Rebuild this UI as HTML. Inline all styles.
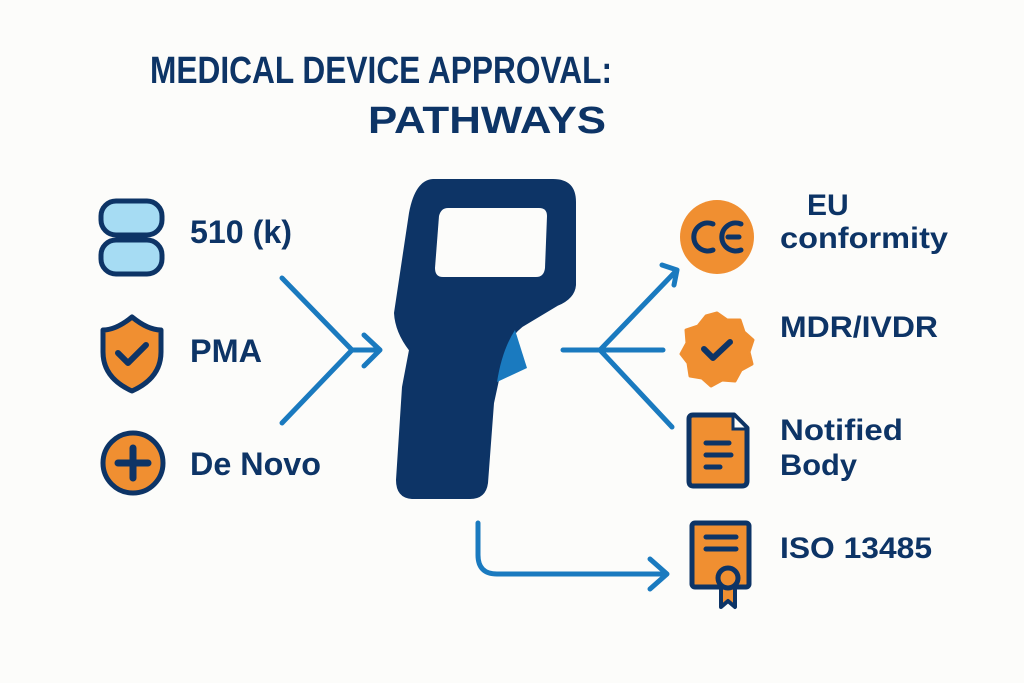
<!DOCTYPE html>
<html><head><meta charset="utf-8"><style>
html,body{margin:0;padding:0;background:#fcfcfa;}
svg{display:block;}
text{font-family:"Liberation Sans",sans-serif;font-weight:bold;fill:#0d3466;}
</style></head><body>
<svg width="1024" height="683" viewBox="0 0 1024 683" xmlns="http://www.w3.org/2000/svg">
<rect width="1024" height="683" fill="#fcfcfa"/>
<text x="150" y="83" font-size="38" textLength="462" lengthAdjust="spacingAndGlyphs">MEDICAL DEVICE APPROVAL:</text>
<text x="368" y="133" font-size="38" textLength="238" lengthAdjust="spacingAndGlyphs">PATHWAYS</text>

<rect x="101" y="201" width="61" height="34" rx="15" fill="#a6dcf3" stroke="#0d3466" stroke-width="5"/>
<rect x="101" y="240" width="61" height="34" rx="15" fill="#a6dcf3" stroke="#0d3466" stroke-width="5"/>
<text x="190" y="243" font-size="32" textLength="102" lengthAdjust="spacingAndGlyphs">510 (k)</text>

<path d="M132 317 Q148 330 161 330 L161 352 Q161 378 132 391 Q103 378 103 352 L103 330 Q116 330 132 317 Z" fill="#f08f31" stroke="#0d3466" stroke-width="5" stroke-linejoin="round"/>
<path d="M118 353 L128 363 L146 345" fill="none" stroke="#0d3466" stroke-width="6" stroke-linecap="round" stroke-linejoin="round"/>
<text x="190" y="362" font-size="32" textLength="72" lengthAdjust="spacingAndGlyphs">PMA</text>

<circle cx="133" cy="463" r="30" fill="#f08f31" stroke="#0d3466" stroke-width="5"/>
<path d="M133 448 V478 M118 463 H148" stroke="#0d3466" stroke-width="7" stroke-linecap="round"/>
<text x="190" y="475" font-size="32" textLength="131" lengthAdjust="spacingAndGlyphs">De Novo</text>

<g fill="none" stroke="#1a7abf" stroke-width="5" stroke-linecap="round" stroke-linejoin="round">
<path d="M282 278 L352 350 L282 423"/>
<path d="M352 350 H380 M364 335 L380 350 L364 366"/>
<path d="M563 350 H663"/>
<path d="M600 350 L677 270 M662 265 L677 270 L674 285"/>
<path d="M600 350 L672 427"/>
<path d="M478 523 V555 Q478 574 497 574 H665 M650 559 L667 574 L650 589"/>
</g>

<path d="M433 180 L553 180 Q575 180 575 202 L575 285 Q574 298 557 305 L522 326 Q507 338 503 357 L493 403 L487 483 Q485 498 470 498 L412 498 Q397 497 397 480 L403 387 L410 350 Q396 332 395 313 L410 213 Q416 181 433 180 Z" fill="#0d3466" stroke="#0d3466" stroke-width="2" stroke-linejoin="round"/>
<path d="M448 208 L539 208 Q547 208 547 216 L545 268 Q544 277 536 277 L443 277 Q435 277 435 268 L439 216 Q441 208 448 208 Z" fill="#fcfcfa"/>
<path d="M515 330 L527 368 L497 382 Q502 350 515 330 Z" fill="#1a7abf"/>

<circle cx="717" cy="237" r="37" fill="#f08f31"/>
<path d="M713 224 A14 14 0 1 0 713 250" fill="none" stroke="#0d3466" stroke-width="5" stroke-linecap="round"/>
<path d="M741 224 A14 14 0 1 0 741 250 M728 237 H739" fill="none" stroke="#0d3466" stroke-width="5" stroke-linecap="round"/>
<text x="807" y="215" font-size="30">EU</text>
<text x="780" y="248" font-size="30" textLength="168" lengthAdjust="spacingAndGlyphs">conformity</text>

<path d="M717 313 L727 320 L740 320 L744 332 L753 340 L749 352 L752 364 L741 370 L735 381 L722 380 L711 386 L702 378 L690 376 L688 363 L681 354 L687 343 L686 330 L698 326 L706 316 Z" fill="#f08f31" stroke="#f08f31" stroke-width="3" stroke-linejoin="round"/>
<path d="M704 349 L713 358 L730 342" fill="none" stroke="#0d3466" stroke-width="6" stroke-linecap="round" stroke-linejoin="round"/>
<text x="780" y="337" font-size="30" textLength="158" lengthAdjust="spacingAndGlyphs">MDR/IVDR</text>

<path d="M693 415 L734 415 L747 428 L747 481 Q747 486 742 486 L693 486 Q689 486 689 481 L689 419 Q689 415 693 415 Z" fill="#f08f31" stroke="#0d3466" stroke-width="5" stroke-linejoin="round"/>
<path d="M733 416 L733 429 L746 429" fill="#fcfcfa" stroke="#0d3466" stroke-width="3"/>
<path d="M706 443 H729 M706 455 H731 M706 467 H720" stroke="#0d3466" stroke-width="5" stroke-linecap="round"/>
<text x="780" y="440" font-size="30" textLength="123" lengthAdjust="spacingAndGlyphs">Notified</text>
<text x="780" y="475" font-size="30" textLength="77" lengthAdjust="spacingAndGlyphs">Body</text>

<rect x="692" y="523" width="57" height="64" rx="3" fill="#f08f31" stroke="#0d3466" stroke-width="5"/>
<path d="M706 537 H736 M706 549 H736" stroke="#0d3466" stroke-width="5" stroke-linecap="round"/>
<path d="M721 585 L721 607 L728 601 L735 607 L735 585" fill="#f08f31" stroke="#0d3466" stroke-width="4" stroke-linejoin="round"/>
<circle cx="728" cy="578" r="10" fill="#f08f31" stroke="#0d3466" stroke-width="5"/>
<text x="780" y="558" font-size="30" textLength="152" lengthAdjust="spacingAndGlyphs">ISO 13485</text>
</svg>
</body></html>
